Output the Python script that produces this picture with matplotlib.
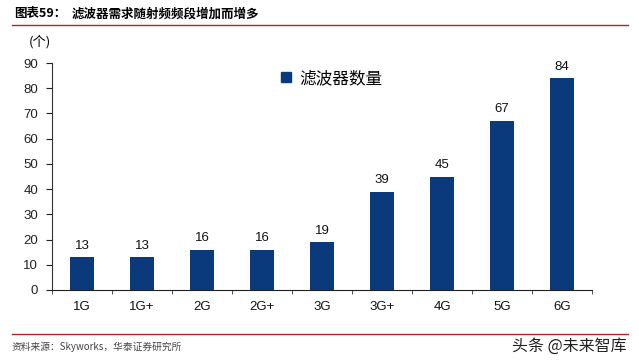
import matplotlib
matplotlib.use("Agg")
import matplotlib.pyplot as plt
from matplotlib.lines import Line2D
import numpy as np

plt.rcParams['font.family'] = ['Liberation Sans', 'Noto Sans CJK SC', 'DejaVu Sans']

categories = ['1G', '1G+', '2G', '2G+', '3G', '3G+', '4G', '5G', '6G']
filters = [13, 13, 16, 16, 19, 39, 45, 67, 84]
yticks = [0, 10, 20, 30, 40, 50, 60, 70, 80, 90]

bar_color = '#0b3a7c'
line_color = '#a52a2a'
cjk = ['Noto Sans CJK SC', 'DejaVu Sans']

fig = plt.figure(figsize=(6.39, 3.61), dpi=100)
ax = fig.add_axes([52 / 639, 1 - 290 / 361, 540 / 639, 227 / 361])

x = np.arange(len(categories))
bars = ax.bar(x, filters, width=0.4, color=bar_color, zorder=2)
for xi, v in zip(x, filters):
    ax.text(xi, v + 2.2, str(v), ha='center', va='bottom', fontsize=9.5, color='#111111')

ax.set_xlim(-0.5, len(categories) - 0.5)
ax.set_ylim(0, 90)
ax.set_yticks(yticks)
ax.tick_params(axis='y', direction='out', length=4, labelsize=9.5, colors='#222222', pad=6)
ax.set_xticks(x)
ax.set_xticklabels(categories, fontsize=9.5, color='#111111')
ax.tick_params(axis='x', length=0, pad=8)
ax.set_xticks(np.arange(len(categories) + 1) - 0.5, minor=True)
ax.tick_params(axis='x', which='minor', direction='out', length=3, color='#333333')
for s in ['top', 'right']:
    ax.spines[s].set_visible(False)
ax.spines['left'].set_color('#333333')
ax.spines['bottom'].set_color('#222222')

# legend
handle = Line2D([], [], marker='s', linestyle='none', color=bar_color, markersize=7)
leg = ax.legend([handle], ['滤波器数量'], loc='upper left', bbox_to_anchor=(0.39, 1.035),
                frameon=False, prop={'family': cjk, 'size': 12}, handletextpad=0.3,
                handlelength=1.0)

# unit label
fig.text(40 / 639, 1 - 42 / 361, '(个)', fontsize=9.5, family=cjk, ha='center', va='center')

# header
fig.text(14 / 639, 1 - 14 / 361, '图表59：', fontsize=9, fontweight='bold', family=cjk,
         ha='left', va='center')
fig.text(72 / 639, 1 - 14 / 361, '滤波器需求随射频频段增加而增多', fontsize=9, fontweight='bold',
         family=cjk, ha='left', va='center')
fig.add_artist(Line2D([12 / 639, 628 / 639], [1 - 25 / 361, 1 - 25 / 361], color=line_color, lw=1.0))

# footer
fig.add_artist(Line2D([12 / 639, 628 / 639], [1 - 334 / 361, 1 - 334 / 361], color=line_color, lw=1.0))
fig.text(12 / 639, 1 - 347 / 361, '资料来源：Skyworks，华泰证券研究所', fontsize=7, color='#444444',
         family=cjk, ha='left', va='center')
fig.text(627 / 639, 1 - 346 / 361, '头条 @未来智库', fontsize=11.5, color='#222222',
         family=cjk, ha='right', va='center')

fig.savefig('out.png', dpi=100)
